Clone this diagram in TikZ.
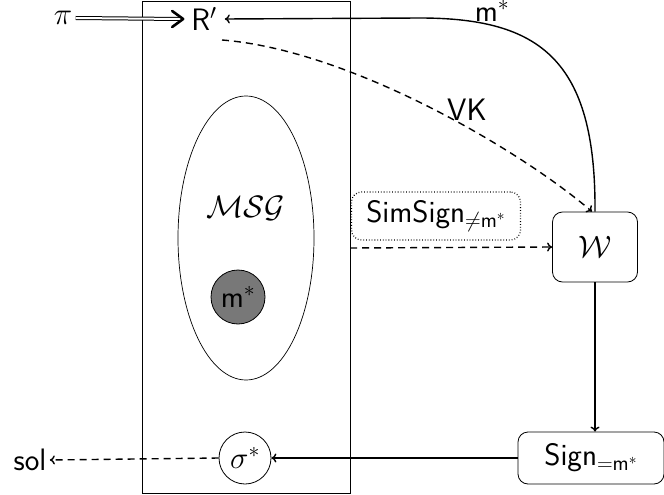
\RequirePackage{fix-cm}
\documentclass[tikz,border=0pt]{standalone}
\usepackage{fontspec}
\usetikzlibrary{arrows.meta,shapes.geometric}
\begin{document}
\begin{tikzpicture}[x=1pt,y=-1pt,
  font=\sffamily\fontsize{31}{36}\selectfont,
  conn/.style={line width=1.4pt,-{To[length=5pt,width=9pt]}},
  dconn/.style={conn,dash pattern=on 7pt off 5pt},
  box/.style={draw,line width=0.8pt,rounded corners=10pt,inner sep=0pt},
  circ/.style={draw,line width=0.8pt,circle,inner sep=0pt}]
\useasboundingbox (0,0) rectangle (664,495);
\draw[line width=0.7pt] (142,1) rectangle (350,493);
\draw[line width=0.7pt] (246,238) ellipse [x radius=68, y radius=142];
\node (msgt) at (246,208) {$\mathcal{MSG}$};
\node[circ,fill=black!53,minimum size=54pt] (m) at (238,297) {m$^*$};
\node (pi) at (63,18) {$\pi$};
\node[inner sep=0pt] (R) at (204,19) {R$'$};
\draw[double,double distance=2pt,line width=1pt] (pi.east) -- ([xshift=-11pt]R.west);
\draw[line width=2.6pt,line cap=round,line join=round] ([shift={(-19,-8)}]R.west) -- ([xshift=-8pt]R.west) -- ([shift={(-19,8)}]R.west);
\node[box,minimum width=85pt,minimum height=70pt] (W) at (595,247) {$\mathcal{W}$};
\node[box,minimum width=146pt,minimum height=52pt] (S) at (591,458) {Sign$_{=\mathsf{m}^*}$};
\node[box,dotted,line width=1.2pt,minimum width=169pt,minimum height=48pt] (sim) at (436,216) {SimSign$_{\neq\mathsf{m}^*}$};
\node[circ,minimum width=50pt,minimum height=52pt] (sig) at (245,458) {$\sigma^*$};
\node (sol) at (30,460) {sol};
\coordinate (vk0) at (222,40);
\coordinate (sd) at (350,248);
\draw[conn] (W.north) .. controls (596,60) and (540,18) .. (420,18) -- ([xshift=8pt]R.east);
\node[anchor=base,inner sep=0pt] (mlab) at (492,22) {m$^*$};
\draw[dconn] (vk0) .. controls (350,50) and (520,150) .. ([xshift=-3pt]W.north);
\node (vk) at (467,110) {VK};
\draw[dconn] (sd) -- (W.west);
\draw[conn] (W.south) -- (S.north -| W.south);
\draw[conn] (S.west) -- (sig.east);
\draw[dconn] (sig.west) -- (sol.east);
\end{tikzpicture}
\end{document}
